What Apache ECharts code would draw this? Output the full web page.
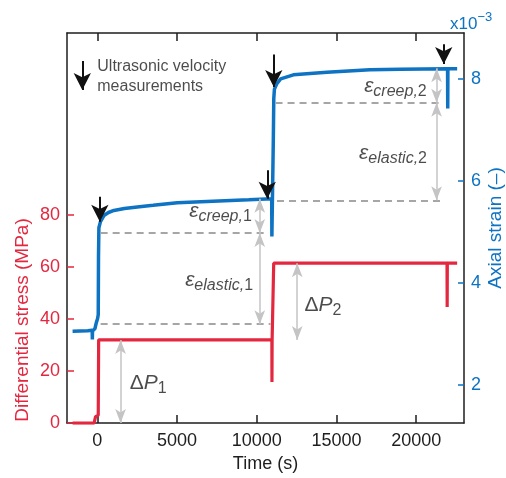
<!DOCTYPE html>
<html>
<head>
<meta charset="utf-8">
<script src="https://cdn.jsdelivr.net/npm/echarts@6/dist/echarts.min.js"></script>
<style>
  html, body { margin: 0; padding: 0; background: #fff; }
  #chart { width: 506px; height: 478px; }
</style>
</head>
<body>
<div id="chart"></div>
<script>
// time (s) vs differential stress (MPa)
const stressData = [
  [-1550, 0], [-200, 0], [-110, 2.5], [60, 3], [85, 32], [10950, 32], [10955, 15.8], [10965, 32],
  [11050, 32], [11065, 61.5], [21935, 61.5], [21945, 44.6], [21955, 61.5], [22570, 61.5]
];
// time (s) vs axial strain (x10^-3)
const strainData = [
  [-1550, 3.05], [-600, 3.06], [-320, 3.07], [-310, 2.89], [-300, 3.06], [-150, 3.1],
  [-60, 3.22], [20, 3.3], [60, 3.38], [75, 4.5], [100, 5.08], [200, 5.2], [415, 5.32],
  [700, 5.38], [1040, 5.42], [1700, 5.46], [2510, 5.49], [3500, 5.52], [5020, 5.57],
  [6500, 5.59], [8000, 5.61], [9500, 5.63], [10940, 5.65], [10950, 4.91], [10990, 4.93],
  [11040, 6.8], [11070, 7.62], [11110, 7.8], [11250, 7.9], [11500, 8.0], [12300, 8.08],
  [14400, 8.13], [17100, 8.18], [19000, 8.19], [21970, 8.2], [21980, 7.42], [21990, 8.2],
  [22570, 8.2]
];
const timeTicks = [0, 5000, 10000, 15000, 20000];
const stressTicks = [0, 20, 40, 60, 80];
const strainTicks = [2, 4, 6, 8];

// dashed strain levels: [t start, t end, strain]
const strainLevels = [[210, 10870, 3.19], [210, 10750, 4.98], [11270, 21800, 5.62], [11180, 21700, 7.53]];
// grey double arrows: [t, from, to]
const strainSpans = [[10190, 3.19, 4.98], [10190, 4.98, 5.65], [21280, 5.62, 7.53], [21280, 7.53, 8.21]];
const stressSpans = [[1460, 0, 32], [12540, 32, 61.5]];
// ultrasonic measurement arrows: [t, top, tip]
const sonicArrows = [[160, 5.69, 5.2], [10660, 6.21, 5.65], [11070, 8.48, 7.84], [21730, 8.68, 8.29], [-940, 8.35, 7.78]];

// annotation labels: [t, value, symbol, subscript, number]
const strainNotes = [
  [7730, 5.4, 'ε', 'creep,', '1'],
  [7640, 4.05, 'ε', 'elastic,', '1'],
  [18700, 7.86, 'ε', 'creep,', '2'],
  [18550, 6.55, 'ε', 'elastic,', '2']
];
const stressNotes = [[3190, 15.5, '1'], [14160, 45.3, '2']];

const RED = '#e3273f';
const BLUE = '#0d73c2';
const INK = '#1e1e1e';
const FONT = 'Liberation Sans';

let myChart = echarts.init(document.getElementById('chart'));

const spanLine = (t, a, b) => [{ coord: [t, a] }, { coord: [t, b] }];
const frameLine = { show: true, onZero: false, lineStyle: { color: INK, width: 1.5 } };

myChart.setOption({
  animation: false,
  textStyle: { fontFamily: FONT },
  grid: { left: 67, right: 42, top: 33, bottom: 48 },
  xAxis: [
    {
      type: 'value', min: -1900, max: 23000,
      name: 'Time (s)', nameLocation: 'middle', nameGap: 27,
      nameTextStyle: { fontSize: 18, color: INK, fontFamily: FONT },
      axisLine: frameLine,
      axisTick: { inside: true, length: 8, customValues: timeTicks, lineStyle: { color: INK, width: 1.5 } },
      axisLabel: { customValues: timeTicks, fontSize: 18, color: INK, margin: 9, formatter: v => String(v) },
      splitLine: { show: false }
    },
    {
      type: 'value', min: -1900, max: 23000, position: 'top',
      axisLine: frameLine,
      axisTick: { inside: true, length: 8, customValues: timeTicks, lineStyle: { color: INK, width: 1.5 } },
      axisLabel: { show: false },
      splitLine: { show: false }
    }
  ],
  yAxis: [
    {
      type: 'value', min: 0, max: 150, position: 'left',
      axisLine: frameLine,
      axisTick: { inside: true, length: 7, customValues: stressTicks, lineStyle: { color: RED, width: 1.5 } },
      axisLabel: { customValues: stressTicks, fontSize: 18, color: RED, margin: 7 },
      splitLine: { show: false }
    },
    {
      type: 'value', min: 1.25, max: 8.9, position: 'right',
      axisLine: frameLine,
      axisTick: { inside: true, length: 6, customValues: strainTicks, lineStyle: { color: BLUE, width: 1.5 } },
      axisLabel: { customValues: strainTicks, fontSize: 18, color: BLUE, margin: 7 },
      splitLine: { show: false }
    }
  ],
  graphic: [
    {
      type: 'text', x: 23, y: 320, rotation: Math.PI / 2,
      style: { text: 'Differential stress (MPa)', fill: RED, font: '19px "Liberation Sans"', align: 'center', verticalAlign: 'middle' }
    },
    {
      type: 'text', x: 496, y: 228, rotation: Math.PI / 2,
      style: { text: 'Axial strain (–)', fill: BLUE, font: '19px "Liberation Sans"', align: 'center', verticalAlign: 'middle' }
    },
    {
      type: 'text', x: 450, y: 20,
      style: {
        text: '{a|x10}{b|−3}', fill: BLUE, align: 'left', verticalAlign: 'middle',
        rich: {
          a: { fontSize: 17, fontFamily: FONT, fill: BLUE, padding: [8, 0, 0, 0] },
          b: { fontSize: 13, fontFamily: FONT, fill: BLUE, padding: [0, 0, 6, 0] }
        }
      }
    }
  ],
  series: [
    {
      name: 'levels', type: 'line', yAxisIndex: 1, data: [], z: 1,
      markLine: {
        silent: true, symbol: ['none', 'none'], label: { show: false },
        lineStyle: { color: '#a6a6a6', width: 1.8, type: [7, 5] },
        data: strainLevels.map(d => [{ coord: [d[0], d[2]] }, { coord: [d[1], d[2]] }])
      }
    },
    {
      name: 'strain spans', type: 'line', yAxisIndex: 1, data: [], z: 1,
      markLine: {
        silent: true, symbol: ['arrow', 'arrow'], symbolSize: [8, 14], label: { show: false },
        lineStyle: { color: '#c4c4c4', width: 1.5, type: 'solid' },
        itemStyle: { color: '#c4c4c4' },
        data: strainSpans.map(d => spanLine(d[0], d[1], d[2]))
      }
    },
    {
      name: 'stress spans', type: 'line', yAxisIndex: 0, data: [], z: 1,
      markLine: {
        silent: true, symbol: ['arrow', 'arrow'], symbolSize: [8, 14], label: { show: false },
        lineStyle: { color: '#c4c4c4', width: 1.5, type: 'solid' },
        itemStyle: { color: '#c4c4c4' },
        data: stressSpans.map(d => spanLine(d[0], d[1], d[2]))
      }
    },
    {
      name: 'Differential stress', type: 'line', yAxisIndex: 0, data: stressData,
      showSymbol: false, z: 3, lineStyle: { color: RED, width: 3.2 }, itemStyle: { color: RED }
    },
    {
      name: 'Axial strain', type: 'line', yAxisIndex: 1, data: strainData,
      showSymbol: false, z: 3, lineStyle: { color: BLUE, width: 3.5 }, itemStyle: { color: BLUE }
    },
    {
      name: 'sonic', type: 'line', yAxisIndex: 1, data: [], z: 5,
      markLine: {
        silent: true, symbol: ['none', 'arrow'], symbolSize: [13, 17], label: { show: false },
        lineStyle: { color: '#111', width: 2, type: 'solid' },
        itemStyle: { color: '#111' },
        data: sonicArrows.map(d => spanLine(d[0], d[1], d[2]))
      }
    },
    {
      name: 'strain notes', type: 'scatter', yAxisIndex: 1, symbolSize: 0, z: 6,
      data: strainNotes.map(d => [d[0], d[1], d[2], d[3], d[4]]),
      label: {
        show: true, position: 'inside', align: 'center', verticalAlign: 'middle', color: INK,
        formatter: p => '{e|' + p.value[2] + '}{s|' + p.value[3] + '}{n|' + p.value[4] + '}',
        rich: {
          e: { fontSize: 21, fontStyle: 'italic', fontFamily: FONT, color: INK },
          s: { fontSize: 16, fontStyle: 'italic', fontFamily: FONT, color: INK, padding: [11, 0, 0, 0] },
          n: { fontSize: 16, fontFamily: FONT, color: INK, padding: [11, 0, 0, 0] }
        }
      }
    },
    {
      name: 'stress notes', type: 'scatter', yAxisIndex: 0, symbolSize: 0, z: 6,
      data: stressNotes,
      label: {
        show: true, position: 'inside', align: 'center', verticalAlign: 'middle', color: INK,
        formatter: p => '{d|Δ}{p|P}{n|' + p.value[2] + '}',
        rich: {
          d: { fontSize: 21, fontFamily: FONT, color: INK },
          p: { fontSize: 21, fontStyle: 'italic', fontFamily: FONT, color: INK },
          n: { fontSize: 16, fontFamily: FONT, color: INK, padding: [11, 0, 0, 0] }
        }
      }
    },
    {
      name: 'legend note', type: 'scatter', yAxisIndex: 1, symbolSize: 0, z: 6,
      data: [[0, 8.04]],
      label: {
        show: true, position: 'inside', align: 'left', verticalAlign: 'middle',
        formatter: 'Ultrasonic velocity\nmeasurements',
        fontSize: 16, lineHeight: 20, color: INK, fontFamily: FONT
      }
    }
  ]
});
</script>
</body>
</html>
